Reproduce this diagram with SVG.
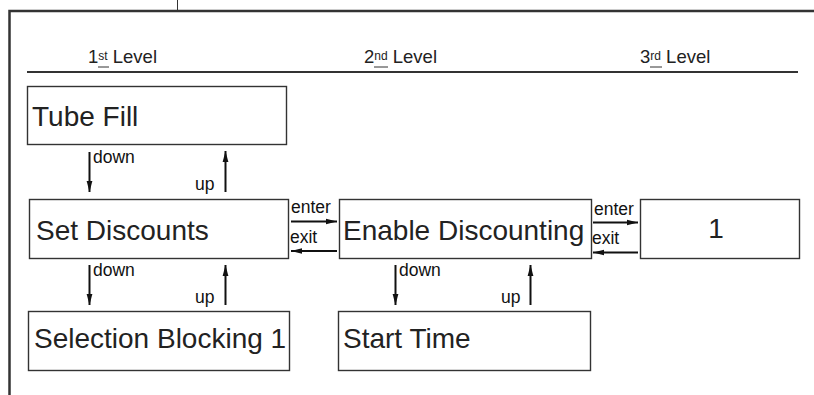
<svg xmlns="http://www.w3.org/2000/svg" width="814" height="395" viewBox="0 0 814 395">
<defs>
<marker id="ah" viewBox="0 0 10 10" refX="10" refY="5" markerWidth="11" markerHeight="11" markerUnits="userSpaceOnUse" orient="auto">
<path d="M0,2.4 L10,5 L0,7.6 Z" fill="#111"/>
</marker>
<style>
.box{fill:#fff;stroke:#333;stroke-width:1.4}
.bt{font-family:"Liberation Sans",Arial,sans-serif;font-size:28px;fill:#222}
.lb{font-family:"Liberation Sans",Arial,sans-serif;font-size:17.5px;fill:#111}
.lv{font-family:"Liberation Sans",Arial,sans-serif;font-size:18.5px;fill:#222}
.sup{font-size:12px}
.ar{stroke:#111;stroke-width:2;fill:none;marker-end:url(#ah)}
.frame{stroke:#333;fill:none}
</style>
</defs>
<rect width="814" height="395" fill="#fff"/>
<g id="frame">
<line class="frame" x1="177.5" y1="0" x2="177.5" y2="11" stroke-width="1"/>
<polyline class="frame" points="9.5,395 9.5,11 814,11" stroke-width="2.5"/>
<line class="frame" x1="27" y1="72" x2="798" y2="72" stroke-width="1.8"/>
</g>
<g id="levels" class="lv">
<text x="88" y="63">1<tspan class="sup" dy="-3.5">st</tspan><tspan dy="3.5"> Level</tspan></text>
<line x1="98" y1="67" x2="109" y2="67" stroke="#333" stroke-width="1"/>
<text x="364" y="63">2<tspan class="sup" dy="-3.5">nd</tspan><tspan dy="3.5"> Level</tspan></text>
<line x1="374" y1="67" x2="388" y2="67" stroke="#333" stroke-width="1"/>
<text x="640" y="63">3<tspan class="sup" dy="-3.5">rd</tspan><tspan dy="3.5"> Level</tspan></text>
<line x1="650" y1="67" x2="662" y2="67" stroke="#333" stroke-width="1"/>
</g>
<g id="n-tube-fill">
<rect class="box" x="27.5" y="86.5" width="259" height="58"/>
<text class="bt" x="32" y="126">Tube Fill</text>
</g>
<g id="n-set-discounts">
<rect class="box" x="29.5" y="199.5" width="259" height="59"/>
<text class="bt" x="36" y="240">Set Discounts</text>
</g>
<g id="n-selection-blocking">
<rect class="box" x="28.5" y="311.5" width="261" height="59"/>
<text class="bt" x="34" y="348">Selection Blocking 1</text>
</g>
<g id="n-enable-discounting">
<rect class="box" x="339.5" y="199.5" width="252" height="59"/>
<text class="bt" x="343" y="240">Enable Discounting</text>
</g>
<g id="n-start-time">
<rect class="box" x="338.5" y="311.5" width="252" height="59"/>
<text class="bt" x="343" y="348">Start Time</text>
</g>
<g id="n-one">
<rect class="box" x="640.5" y="199.5" width="159" height="59"/>
<text class="bt" x="716" y="238" text-anchor="middle">1</text>
</g>
<g id="connectors">
<line class="ar" x1="89.5" y1="152" x2="89.5" y2="192"/>
<line class="ar" x1="225.5" y1="192" x2="225.5" y2="151"/>
<line class="ar" x1="89.5" y1="265" x2="89.5" y2="305"/>
<line class="ar" x1="225.5" y1="305" x2="225.5" y2="265"/>
<line class="ar" x1="395.5" y1="265" x2="395.5" y2="305"/>
<line class="ar" x1="530.5" y1="305" x2="530.5" y2="265"/>
<line class="ar" x1="291" y1="221.5" x2="337" y2="221.5"/>
<line class="ar" x1="337" y1="251" x2="291" y2="251"/>
<line class="ar" x1="593" y1="222.5" x2="638" y2="222.5"/>
<line class="ar" x1="638" y1="252.5" x2="593" y2="252.5"/>
<text class="lb" x="93" y="163">down</text>
<text class="lb" x="195" y="190">up</text>
<text class="lb" x="93" y="276">down</text>
<text class="lb" x="195" y="303">up</text>
<text class="lb" x="399" y="276">down</text>
<text class="lb" x="501" y="303">up</text>
<text class="lb" x="291" y="213">enter</text>
<text class="lb" x="290" y="243">exit</text>
<text class="lb" x="594" y="215">enter</text>
<text class="lb" x="592" y="244">exit</text>
</g>
</svg>
